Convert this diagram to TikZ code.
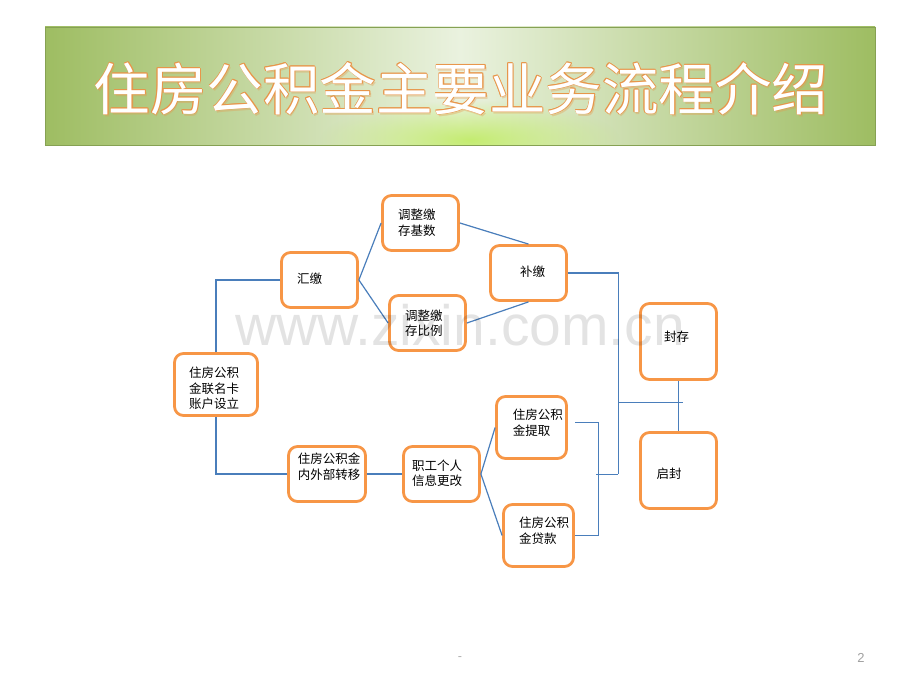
\documentclass[tikz,border=0pt]{standalone}
\usepackage{fontspec}
\setmainfont{Noto Sans CJK SC}
\newfontfamily\wmfont{Liberation Sans}
\usetikzlibrary{fadings}
\definecolor{boxorange}{HTML}{F79646}
\definecolor{linkblue}{HTML}{4A7EBB}
\definecolor{bannerside}{HTML}{9EBD62}
\definecolor{bannermid}{HTML}{EAF2DF}
\definecolor{glowgreen}{HTML}{C4EC70}
\definecolor{titleedge}{HTML}{E8964A}
\definecolor{footgray}{HTML}{A0A0A0}
\tikzfading[name=glowfade, inner color=transparent!0, outer color=transparent!100]
\begin{document}
\begin{tikzpicture}[x=1pt,y=-1pt,
  box/.style={draw=boxorange, line width=2.8pt, rounded corners=9pt, fill=white, inner sep=0pt},
  txt/.style={anchor=west, inner sep=0pt, align=left, text=black, font=\fontsize{12.5}{15.6}\selectfont},
  link/.style={draw=linkblue, line width=1.2pt},
  titletext/.style={inner sep=0pt, font=\fontsize{56.5}{60}\selectfont},
  wm/.style={anchor=base, inner sep=0pt, text=black, text opacity=0.11, font=\wmfont\fontsize{57}{60}\selectfont}]
\useasboundingbox (0,0) rectangle (920,690);

% banner
\begin{scope}
  \clip (45,27) rectangle (875,145);
  \shade[left color=bannerside, right color=bannerside, middle color=bannermid] (45,27) rectangle (875,145);
  \fill[glowgreen, path fading=glowfade] (470,140) ellipse (150 and 40);
\end{scope}
\draw[bannerside!85!black, line width=0.8pt] (45,27) rectangle (875,145);

% title
\node[titletext, text=titleedge, opacity=0.35] (tshadow) at (462.5,90.5) {住房公积金主要业务流程介绍};
\foreach \dx/\dy [count=\k] in {-0.75/0,0.75/0,0/-0.75,0/0.75,-0.55/-0.55,0.55/0.55,-0.55/0.55,0.55/-0.55}
  \node[titletext, text=titleedge] (tedge\k) at (461+\dx,88.5+\dy) {住房公积金主要业务流程介绍};
\node[titletext, text=white] (title) at (461,88.5) {住房公积金主要业务流程介绍};

% boxes
\node[box, minimum width=83pt, minimum height=62pt] (card) at (216,384.5) {};
\node[box, minimum width=76pt, minimum height=55pt] (huijiao) at (319.5,280) {};
\node[box, minimum width=76pt, minimum height=55pt] (jishu) at (420.5,223) {};
\node[box, minimum width=76pt, minimum height=55pt] (bili) at (427.5,323) {};
\node[box, minimum width=76pt, minimum height=55pt] (bujiao) at (528.5,273) {};
\node[box, minimum width=76pt, minimum height=76pt] (fengcun) at (678.5,341.5) {};
\node[box, minimum width=76pt, minimum height=76pt] (qifeng) at (678.5,470.5) {};
\node[box, minimum width=77pt, minimum height=55pt] (zhuanyi) at (327,474) {};
\node[box, minimum width=76pt, minimum height=55pt] (xinxi) at (441.5,474) {};
\node[box, minimum width=70pt, minimum height=62pt] (tiqu) at (531.5,427.5) {};
\node[box, minimum width=70pt, minimum height=62pt] (daikuan) at (538.5,535.5) {};

% texts
\node[txt] (t-card) at (189,388.5) {住房公积\\金联名卡\\账户设立};
\node[txt] (t-huijiao) at (297,279) {汇缴};
\node[txt] (t-jishu) at (398,222.5) {调整缴\\存基数};
\node[txt] (t-bili) at (405,323.3) {调整缴\\存比例};
\node[txt] (t-bujiao) at (520,271.7) {补缴};
\node[txt] (t-fengcun) at (664,336.7) {封存};
\node[txt] (t-qifeng) at (656.5,474) {启封};
\node[txt] (t-tiqu) at (512.7,423) {住房公积\\金提取};
\node[txt] (t-zhuanyi) at (297.6,466.7) {住房公积金\\内外部转移};
\node[txt] (t-xinxi) at (412,473.3) {职工个人\\信息更改};
\node[txt] (t-daikuan) at (519,531) {住房公积\\金贷款};

% connectors
\coordinate (vbot) at (618.3,474.3);
\coordinate (hleft) at (618.3,402.3);
\coordinate (hright) at (682.7,402.3);
\coordinate (bstart) at (575,422.3);
\coordinate (bturn) at (598.3,422.3);
\coordinate (bmid) at (596,474.3);

\draw[link] (card.north) |- (huijiao.west);
\draw[link] (card.south) |- (zhuanyi.west);
\draw[link] (huijiao.east) -- (jishu.west);
\draw[link] (huijiao.east) -- (bili.west);
\draw[link] (jishu.east) -- (bujiao.north);
\draw[link] (bili.east) -- (bujiao.south);
\draw[link] (bujiao.east) -| (vbot);
\draw[link] (hleft) -- (hright);
\draw[link] (fengcun.south) -- (qifeng.north);
\draw[link] (zhuanyi.east) -- (xinxi.west);
\draw[link] (xinxi.east) -- (tiqu.west);
\draw[link] (xinxi.east) -- (daikuan.west);
\draw[link] (bstart) -- (bturn) |- (daikuan.east);
\draw[link] (bmid) -- (vbot);

% watermark
\node[wm] (watermark) at (460,345) {www.zixin.com.cn};

% footer
\node[inner sep=0pt, text=footgray, font=\fontsize{12}{14}\selectfont] (dash) at (460,659) {-};
\node[inner sep=0pt, text=footgray, font=\wmfont\fontsize{13}{15}\selectfont] (pagenum) at (861,658) {2};
\end{tikzpicture}
\end{document}
